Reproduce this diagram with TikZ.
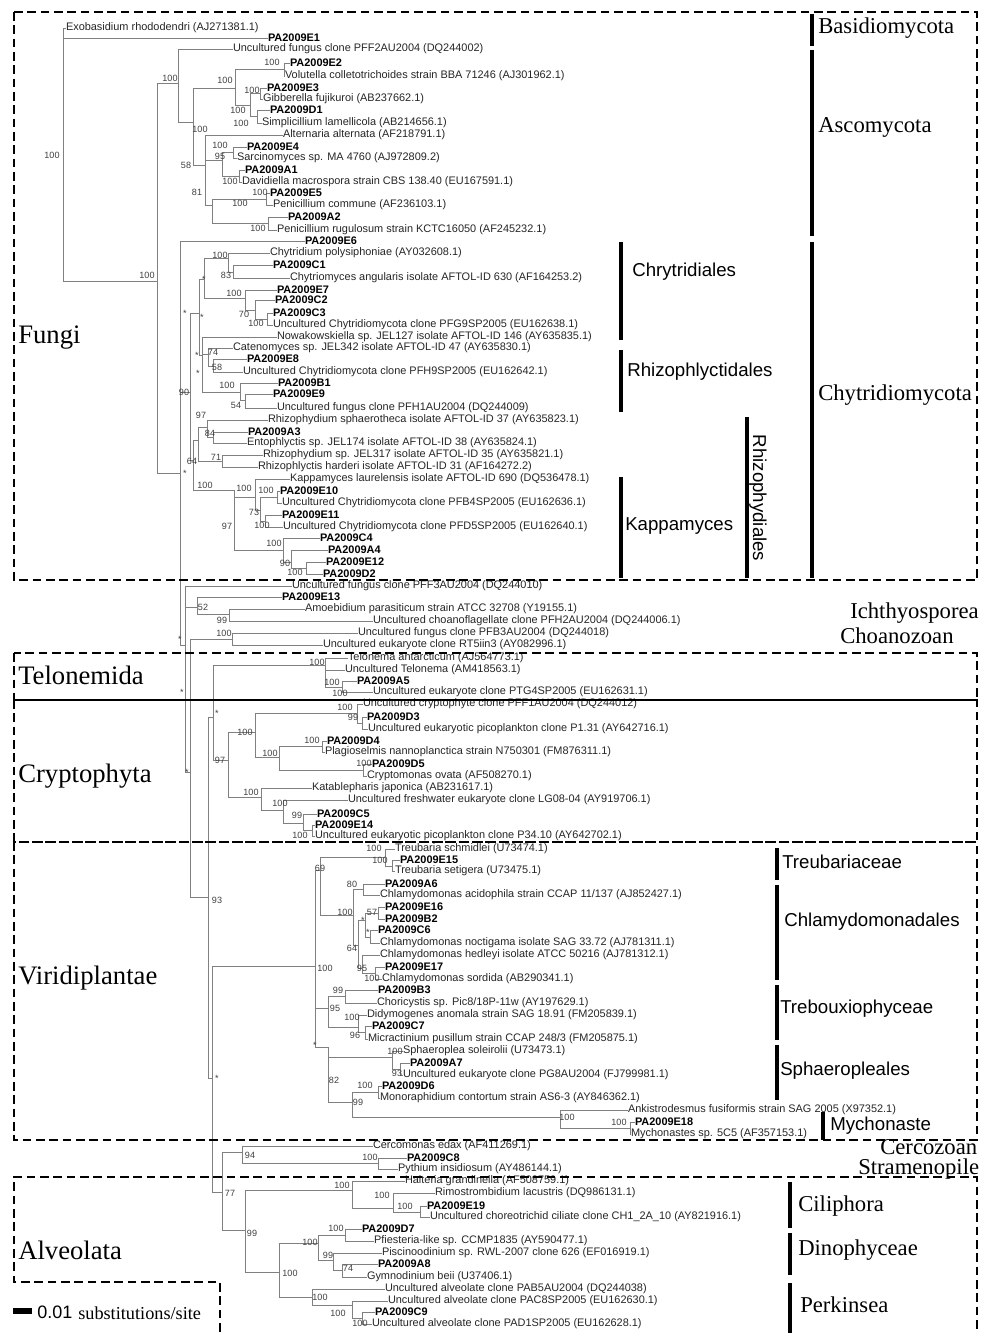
\documentclass[tikz,border=0pt]{standalone}
\usepackage{fontspec}
\setmainfont{Liberation Serif}
\setsansfont{Liberation Sans}
\newcounter{bsc}
\newcommand\bs[3]{\stepcounter{bsc}\node[bsl] (bs\arabic{bsc}) at (#1,#2) {#3};}
\newcommand\lv[4]{\node[lf] (#1) at (#2,#3) {#4};}
\newcommand\pa[4]{\node[lfb] (#1) at (#2,#3) {PA2009#4};}
\newcommand\kids[2]{\foreach \c in {#2}{\draw[br] (#1) |- (\c);}}
\begin{document}
\begin{tikzpicture}[x=0.75pt,y=-0.75pt,
  lf/.style={anchor=west, inner sep=0pt, outer sep=0pt, font=\sffamily\fontsize{8.2}{9}\selectfont, text=black!85},
  lfb/.style={lf, font=\sffamily\bfseries\fontsize{8.2}{9}\selectfont, text=black},
  br/.style={draw=black!50, line width=0.65pt},
  bsl/.style={inner sep=0pt, font=\sffamily\fontsize{6.8}{7}\selectfont, text=black!75},
  gbox/.style={draw=black, line width=1.9pt, dash pattern=on 6.5pt off 3.5pt},
  bar/.style={draw=black, line width=3pt},
  glab/.style={anchor=west, inner sep=0pt, font=\fontsize{20}{22}\selectfont},
  rlab/.style={anchor=west, inner sep=0pt, font=\fontsize{17}{18}\selectfont},
  slab/.style={anchor=west, inner sep=0pt, font=\sffamily\fontsize{14}{15}\selectfont}]
\useasboundingbox (0,0) rectangle (981,1333);
\fill[white] (0,0) rectangle (981,1333);
% ---------------- leaves
\lv{exo}{66}{28}{Exobasidium rhododendri (AJ271381.1)}
\pa{e1}{268}{38}{E1}
\lv{unc1}{233}{49}{Uncultured fungus clone PFF2AU2004 (DQ244002)}
\pa{e2}{290}{63}{E2}
\lv{vol}{285}{76}{Volutella colletotrichoides strain BBA 71246 (AJ301962.1)}
\pa{e3}{267}{88}{E3}
\lv{gib}{263}{99}{Gibberella fujikuroi (AB237662.1)}
\pa{d1}{270}{110}{D1}
\lv{sim}{262}{123}{Simplicillium lamellicola (AB214656.1)}
\lv{alt}{283}{135}{Alternaria alternata (AF218791.1)}
\pa{e4}{247}{147}{E4}
\lv{sar}{237}{158}{Sarcinomyces sp. MA 4760 (AJ972809.2)}
\pa{a1}{245}{170}{A1}
\lv{dav}{242}{182}{Davidiella macrospora strain CBS 138.40 (EU167591.1)}
\pa{e5}{270}{193}{E5}
\lv{pcom}{273}{205}{Penicillium commune (AF236103.1)}
\pa{a2}{288}{217}{A2}
\lv{prug}{277}{230}{Penicillium rugulosum strain KCTC16050 (AF245232.1)}
\pa{e6}{305}{241}{E6}
\lv{chy}{270}{253}{Chytridium polysiphoniae (AY032608.1)}
\pa{c1}{273}{265}{C1}
\lv{cang}{290}{278}{Chytriomyces angularis isolate AFTOL-ID 630 (AF164253.2)}
\pa{e7}{277}{290}{E7}
\pa{c2}{275}{300}{C2}
\pa{c3}{273}{313}{C3}
\lv{pfg9}{273}{325}{Uncultured Chytridiomycota clone PFG9SP2005 (EU162638.1)}
\lv{now}{277}{337}{Nowakowskiella sp. JEL127 isolate AFTOL-ID 146 (AY635835.1)}
\lv{cat}{233}{348}{Catenomyces sp. JEL342 isolate AFTOL-ID 47 (AY635830.1)}
\pa{e8}{247}{359}{E8}
\lv{pfh9}{243}{372}{Uncultured Chytridiomycota clone PFH9SP2005 (EU162642.1)}
\pa{b1}{278}{383}{B1}
\pa{e9}{273}{394}{E9}
\lv{pfh1}{277}{408}{Uncultured fungus clone PFH1AU2004 (DQ244009)}
\lv{rsph}{268}{420}{Rhizophydium sphaerotheca isolate AFTOL-ID 37 (AY635823.1)}
\pa{a3}{248}{432}{A3}
\lv{ent}{247}{443}{Entophlyctis sp. JEL174 isolate AFTOL-ID 38 (AY635824.1)}
\lv{rjel}{263}{455}{Rhizophydium sp. JEL317 isolate AFTOL-ID 35 (AY635821.1)}
\lv{rhar}{258}{467}{Rhizophlyctis harderi isolate AFTOL-ID 31 (AF164272.2)}
\lv{kap}{290}{479}{Kappamyces laurelensis isolate AFTOL-ID 690 (DQ536478.1)}
\pa{e10}{280}{491}{E10}
\lv{pfb4}{282}{503}{Uncultured Chytridiomycota clone PFB4SP2005 (EU162636.1)}
\pa{e11}{282}{515}{E11}
\lv{pfd5}{283}{527}{Uncultured Chytridiomycota clone PFD5SP2005 (EU162640.1)}
\pa{c4}{320}{538}{C4}
\pa{a4}{328}{550}{A4}
\pa{e12}{326}{562}{E12}
\pa{d2}{323}{574}{D2}
\lv{pff3}{292}{586}{Uncultured fungus clone PFF3AU2004 (DQ244010)}
\pa{e13}{282}{597}{E13}
\lv{amo}{305}{609}{Amoebidium parasiticum strain ATCC 32708 (Y19155.1)}
\lv{cho}{373}{621}{Uncultured choanoflagellate clone PFH2AU2004 (DQ244006.1)}
\lv{pfb3}{358}{633}{Uncultured fungus clone PFB3AU2004 (DQ244018)}
\lv{rt5}{323}{645}{Uncultured eukaryote clone RT5iin3 (AY082996.1)}
\lv{tant}{348}{658}{Telonema antarcticum (AJ564773.1)}
\lv{tunc}{345}{670}{Uncultured Telonema (AM418563.1)}
\pa{a5}{357}{681}{A5}
\lv{ptg4}{373}{692}{Uncultured eukaryote clone PTG4SP2005 (EU162631.1)}
\lv{pff1}{363}{704}{Uncultured cryptophyte clone PFF1AU2004 (DQ244012)}
\pa{d3}{367}{717}{D3}
\lv{p131}{368}{729}{Uncultured eukaryotic picoplankton clone P1.31 (AY642716.1)}
\pa{d4}{327}{741}{D4}
\lv{pla}{325}{752}{Plagioselmis nannoplanctica strain N750301 (FM876311.1)}
\pa{d5}{372}{764}{D5}
\lv{cov}{367}{776}{Cryptomonas ovata (AF508270.1)}
\lv{kat}{312}{788}{Katablepharis japonica (AB231617.1)}
\lv{lg08}{348}{800}{Uncultured freshwater eukaryote clone LG08-04 (AY919706.1)}
\pa{c5}{317}{814}{C5}
\pa{e14}{315}{825}{E14}
\lv{p3410}{315}{836}{Uncultured eukaryotic picoplankton clone P34.10 (AY642702.1)}
\lv{tsch}{395}{849}{Treubaria schmidlei (U73474.1)}
\pa{e15}{400}{860}{E15}
\lv{tset}{395}{871}{Treubaria setigera (U73475.1)}
\pa{a6}{385}{884}{A6}
\lv{cac}{380}{895}{Chlamydomonas acidophila strain CCAP 11/137 (AJ852427.1)}
\pa{e16}{385}{907}{E16}
\pa{b2}{385}{919}{B2}
\pa{c6}{378}{930}{C6}
\lv{cnoc}{380}{943}{Chlamydomonas noctigama isolate SAG 33.72 (AJ781311.1)}
\lv{ched}{380}{955}{Chlamydomonas hedleyi isolate ATCC 50216 (AJ781312.1)}
\pa{e17}{385}{967}{E17}
\lv{csor}{382}{979}{Chlamydomonas sordida (AB290341.1)}
\pa{b3}{378}{990}{B3}
\lv{chor}{377}{1003}{Choricystis sp. Pic8/18P-11w (AY197629.1)}
\lv{didy}{367}{1015}{Didymogenes anomala strain SAG 18.91 (FM205839.1)}
\pa{c7}{372}{1026}{C7}
\lv{micr}{368}{1039}{Micractinium pusillum strain CCAP 248/3 (FM205875.1)}
\lv{sph}{403}{1051}{Sphaeroplea soleirolii (U73473.1)}
\pa{a7}{410}{1063}{A7}
\lv{pg8}{403}{1075}{Uncultured eukaryote clone PG8AU2004 (FJ799981.1)}
\pa{d6}{382}{1086}{D6}
\lv{mono}{380}{1098}{Monoraphidium contortum strain AS6-3 (AY846362.1)}
\lv{ank}{628}{1110}{Ankistrodesmus fusiformis strain SAG 2005 (X97352.1)}
\pa{e18}{635}{1122}{E18}
\lv{myc}{631}{1134}{Mychonastes sp. 5C5 (AF357153.1)}
\lv{cer}{373}{1146}{Cercomonas edax (AF411269.1)}
\pa{c8}{407}{1158}{C8}
\lv{pyt}{398}{1169}{Pythium insidiosum (AY486144.1)}
\lv{hal}{405}{1181}{Halteria grandinella (AF508759.1)}
\lv{rim}{435}{1193}{Rimostrombidium lacustris (DQ986131.1)}
\pa{e19}{427}{1206}{E19}
\lv{ch1}{430}{1217}{Uncultured choreotrichid ciliate clone CH1\_2A\_10 (AY821916.1)}
\pa{d7}{362}{1229}{D7}
\lv{pfi}{374}{1241}{Pfiesteria-like sp. CCMP1835 (AY590477.1)}
\lv{pis}{382}{1253}{Piscinoodinium sp. RWL-2007 clone 626 (EF016919.1)}
\pa{a8}{378}{1264}{A8}
\lv{gym}{367}{1277}{Gymnodinium beii (U37406.1)}
\lv{pab5}{385}{1289}{Uncultured alveolate clone PAB5AU2004 (DQ244038)}
\lv{pac8}{388}{1301}{Uncultured alveolate clone PAC8SP2005 (EU162630.1)}
\pa{c9}{375}{1312}{C9}
\lv{pad1}{372}{1324}{Uncultured alveolate clone PAD1SP2005 (EU162628.1)}
% ---------------- internal nodes
\coordinate (r0) at (63,155);   \coordinate (n157) at (157,281);
\coordinate (asc) at (178,83);  \coordinate (a2n) at (193,122);
\coordinate (a3n) at (235,88);  \coordinate (b1n) at (284,69);
\coordinate (b2n) at (250,105); \coordinate (b3n) at (260,93);
\coordinate (b4n) at (257,116); \coordinate (pn) at (205,165);
\coordinate (sn) at (222,160);  \coordinate (tn) at (233,152);
\coordinate (un) at (239,176);  \coordinate (qn) at (212,205);
\coordinate (vn) at (266,199);  \coordinate (wn) at (268,223);
\coordinate (x180) at (180,473); \coordinate (chn) at (190,392);
\coordinate (can) at (199,313); \coordinate (cbn) at (204,279);
\coordinate (cdn) at (228,258); \coordinate (cfn) at (233,272);
\coordinate (cen) at (245,298); \coordinate (cgn) at (255,310);
\coordinate (chn2) at (267,319); \coordinate (ccn) at (202,355);
\coordinate (cin) at (208,354); \coordinate (ckn) at (213,366);
\coordinate (cjn) at (240,392); \coordinate (cln) at (245,400);
\coordinate (rzn) at (193,460); \coordinate (ran) at (198,440);
\coordinate (rcn) at (207,427); \coordinate (ren) at (213,437);
\coordinate (rdn) at (222,461); \coordinate (rkn) at (234,490);
\coordinate (rmn) at (255,497); \coordinate (ron) at (260,510);
\coordinate (rpn) at (277,497); \coordinate (rqn) at (265,521);
\coordinate (rnn) at (283,550); \coordinate (rrn) at (291,562);
\coordinate (rsn) at (306,568);
\coordinate (x185) at (185,645); \coordinate (i1n) at (197,607);
\coordinate (i3n) at (229,614); \coordinate (x190) at (190,772);
\coordinate (i2n) at (232,639); \coordinate (x208) at (208,897);
\coordinate (t0n) at (213,717); \coordinate (tln) at (325,665);
\coordinate (tan) at (342,687); \coordinate (cr0) at (228,760);
\coordinate (cr1) at (255,732); \coordinate (cr3) at (357,713);
\coordinate (cr5) at (362,723); \coordinate (cr4) at (279,757);
\coordinate (cr6) at (322,746); \coordinate (cr7) at (363,770);
\coordinate (cr2) at (261,797); \coordinate (cr8) at (283,810);
\coordinate (cr9) at (303,823); \coordinate (cr10) at (312,830);
\coordinate (x212) at (212,1078); \coordinate (v0) at (315,966);
\coordinate (v1) at (320,870);  \coordinate (tr) at (385,857);
\coordinate (tr2) at (392,866); \coordinate (cl) at (353,915);
\coordinate (cl1) at (363,889); \coordinate (cl2) at (358,945);
\coordinate (cl3) at (365,920); \coordinate (cl5) at (378,913);
\coordinate (cl6) at (370,937); \coordinate (cl4) at (362,968);
\coordinate (cl7) at (375,973); \coordinate (tb) at (328,1008);
\coordinate (tb1) at (345,996); \coordinate (tb2) at (358,1027);
\coordinate (tb3) at (365,1032); \coordinate (v2) at (328,1047);
\coordinate (spn) at (392,1057); \coordinate (spa) at (400,1069);
\coordinate (v5) at (352,1102); \coordinate (d6n) at (378,1092);
\coordinate (am) at (560,1117); \coordinate (am2) at (630,1128);
\coordinate (xa) at (222,1192); \coordinate (cs) at (242,1152);
\coordinate (cs2) at (378,1163); \coordinate (al) at (245,1230);
\coordinate (ci0) at (352,1190); \coordinate (ci1) at (393,1208);
\coordinate (ci2) at (420,1212); \coordinate (di0) at (279,1272);
\coordinate (di1) at (318,1243); \coordinate (di2) at (345,1235);
\coordinate (di3) at (333,1260); \coordinate (di4) at (342,1270);
\coordinate (pk) at (312,1297); \coordinate (pk2) at (352,1305);
\coordinate (pk3) at (362,1318);
% ---------------- branches
\kids{r0}{exo.west,e1.west,n157}
\kids{n157}{asc,x180}
\kids{asc}{unc1.west,a2n}
\kids{a2n}{a3n,pn}
\kids{a3n}{b1n,b2n}
\kids{b1n}{e2.west,vol.west}
\kids{b2n}{b3n,b4n}
\kids{b3n}{e3.west,gib.west}
\kids{b4n}{d1.west,sim.west}
\kids{pn}{alt.west,sn,qn}
\kids{sn}{tn,un}
\kids{tn}{e4.west,sar.west}
\kids{un}{a1.west,dav.west}
\kids{qn}{vn,wn}
\kids{vn}{e5.west,pcom.west}
\kids{wn}{a2.west,prug.west}
\kids{x180}{e6.west,chn,x185}
\kids{chn}{can,rzn}
\kids{can}{cbn,ccn}
\kids{cbn}{cdn,cen}
\kids{cdn}{chy.west,cfn}
\kids{cfn}{c1.west,cang.west}
\kids{cen}{e7.west,cgn}
\kids{cgn}{c2.west,chn2}
\kids{chn2}{c3.west,pfg9.west}
\kids{ccn}{now.west,cin,cjn}
\kids{cin}{cat.west,ckn}
\kids{ckn}{e8.west,pfh9.west}
\kids{cjn}{b1.west,cln}
\kids{cln}{e9.west,pfh1.west}
\kids{rzn}{ran,rkn}
\kids{ran}{rcn,rdn}
\kids{rcn}{rsph.west,ren}
\kids{ren}{a3.west,ent.west}
\kids{rdn}{rjel.west,rhar.west}
\kids{rkn}{rmn,rnn}
\kids{rmn}{kap.west,ron}
\kids{ron}{rpn,rqn}
\kids{rpn}{e10.west,pfb4.west}
\kids{rqn}{e11.west,pfd5.west}
\kids{rnn}{c4.west,rrn}
\kids{rrn}{a4.west,rsn}
\kids{rsn}{e12.west,d2.west}
\kids{x185}{pff3.west,i1n,x190}
\kids{i1n}{e13.west,i3n}
\kids{i3n}{amo.west,cho.west}
\kids{x190}{i2n,x208}
\kids{i2n}{pfb3.west,rt5.west}
\kids{x208}{t0n,x212}
\kids{t0n}{tln,cr0}
\kids{tln}{tant.west,tunc.west,tan}
\kids{tan}{a5.west,ptg4.west}
\kids{cr0}{cr1,cr2}
\kids{cr1}{cr3,cr4}
\kids{cr3}{pff1.west,cr5}
\kids{cr5}{d3.west,p131.west}
\kids{cr4}{cr6,cr7}
\kids{cr6}{d4.west,pla.west}
\kids{cr7}{d5.west,cov.west}
\kids{cr2}{kat.west,cr8}
\kids{cr8}{lg08.west,cr9}
\kids{cr9}{c5.west,cr10}
\kids{cr10}{e14.west,p3410.west}
\kids{x212}{v0,xa}
\kids{v0}{v1,tb,v2}
\kids{v1}{tr,cl}
\kids{tr}{tsch.west,tr2}
\kids{tr2}{e15.west,tset.west}
\kids{cl}{cl1,cl2}
\kids{cl1}{a6.west,cac.west}
\kids{cl2}{cl3,cl4}
\kids{cl3}{cl5,cl6}
\kids{cl5}{e16.west,b2.west}
\kids{cl6}{c6.west,cnoc.west}
\kids{cl4}{ched.west,cl7}
\kids{cl7}{e17.west,csor.west}
\kids{tb}{tb1,tb2}
\kids{tb1}{b3.west,chor.west}
\kids{tb2}{didy.west,tb3}
\kids{tb3}{c7.west,micr.west}
\kids{v2}{spn,v5}
\kids{spn}{sph.west,spa}
\kids{spa}{a7.west,pg8.west}
\kids{v5}{d6n,am}
\kids{d6n}{d6.west,mono.west}
\kids{am}{ank.west,am2}
\kids{am2}{e18.west,myc.west}
\kids{xa}{cs,al}
\kids{cs}{cer.west,cs2}
\kids{cs2}{c8.west,pyt.west}
\kids{al}{ci0,di0}
\kids{ci0}{hal.west,ci1}
\kids{ci1}{rim.west,ci2}
\kids{ci2}{e19.west,ch1.west}
\kids{di0}{di1,pk}
\kids{di1}{di2,di3}
\kids{di2}{d7.west,pfi.west}
\kids{di3}{pis.west,di4}
\kids{di4}{a8.west,gym.west}
\kids{pk}{pab5.west,pk2}
\kids{pk2}{pac8.west,pk3}
\kids{pk3}{c9.west,pad1.west}
% ---------------- support values
\bs{52}{155}{100}\bs{147}{275}{100}\bs{170}{78}{100}\bs{225}{80}{100}
\bs{272}{62}{100}\bs{252}{90}{100}\bs{238}{110}{100}\bs{241}{123}{100}
\bs{200}{129}{100}\bs{220}{145}{100}\bs{220}{156}{95}\bs{186}{165}{58}
\bs{230}{181}{100}\bs{197}{192}{81}\bs{260}{192}{100}\bs{240}{203}{100}
\bs{258}{228}{100}
\bs{220}{255}{100}\bs{226}{275}{83}\bs{204}{279}{*}\bs{234}{293}{100}
\bs{244}{314}{70}\bs{256}{323}{100}\bs{185}{313}{*}\bs{202}{317}{*}
\bs{197}{355}{*}\bs{198}{373}{*}\bs{213}{352}{74}\bs{217}{367}{58}
\bs{227}{385}{100}\bs{236}{405}{54}\bs{184}{392}{90}\bs{201}{415}{97}
\bs{210}{433}{84}\bs{216}{457}{71}\bs{192}{461}{64}\bs{185}{473}{*}
\bs{205}{485}{100}\bs{244}{488}{100}\bs{266}{490}{100}\bs{254}{512}{73}
\bs{262}{525}{100}\bs{227}{526}{97}\bs{274}{543}{100}\bs{285}{563}{90}
\bs{295}{572}{100}
\bs{180}{639}{*}\bs{203}{607}{52}\bs{222}{620}{99}\bs{224}{633}{100}
\bs{182}{692}{*}\bs{317}{662}{100}\bs{332}{682}{100}\bs{340}{693}{100}
\bs{217}{713}{*}\bs{345}{707}{100}\bs{353}{717}{99}\bs{245}{732}{100}
\bs{220}{760}{97}\bs{270}{753}{100}\bs{312}{740}{100}\bs{364}{763}{100}
\bs{251}{792}{100}\bs{280}{803}{100}\bs{297}{815}{99}\bs{300}{835}{100}
\bs{187}{772}{*}
\bs{374}{848}{100}\bs{380}{860}{100}\bs{320}{868}{69}\bs{352}{884}{80}
\bs{217}{900}{93}\bs{345}{912}{100}\bs{372}{912}{57}\bs{363}{920}{*}
\bs{368}{932}{*}\bs{352}{948}{64}\bs{362}{968}{95}\bs{325}{968}{100}
\bs{372}{978}{100}\bs{338}{990}{99}\bs{335}{1008}{95}\bs{352}{1017}{100}
\bs{355}{1035}{96}\bs{395}{1051}{100}\bs{397}{1073}{93}\bs{315}{1045}{*}
\bs{217}{1078}{*}\bs{334}{1080}{82}\bs{365}{1085}{100}\bs{358}{1102}{99}
\bs{567}{1117}{100}\bs{619}{1122}{100}
\bs{250}{1155}{94}\bs{370}{1157}{100}\bs{230}{1193}{77}
\bs{342}{1185}{100}\bs{382}{1195}{100}\bs{405}{1206}{100}\bs{252}{1233}{99}
\bs{336}{1228}{100}\bs{310}{1242}{100}\bs{328}{1255}{99}\bs{348}{1268}{74}
\bs{290}{1273}{100}\bs{320}{1297}{100}\bs{338}{1313}{100}\bs{360}{1323}{100}
% ---------------- group boxes
\draw[gbox] (14,12) rectangle (977,580);
\draw[gbox] (14,653) rectangle (977,700);
\draw[gbox] (14,700) rectangle (977,842);
\draw[gbox] (14,842) rectangle (977,1140);
\draw[gbox] (220,1345) -- (220,1282) -- (14,1282) -- (14,1177) -- (977,1177) -- (977,1345);
% ---------------- group labels
\node[glab] (lfungi) at (18,338) {Fungi};
\node[glab] (ltelo) at (18,675) {Telonemida};
\node[glab] (lcryp) at (18,776) {Cryptophyta};
\node[glab] (lviri) at (18,978) {Viridiplantae};
\node[glab] (lalve) at (18,1250) {Alveolata};
% ---------------- right labels
\draw[bar] (812,14) -- (812,46);   \node[rlab] (lbas) at (818,28) {Basidiomycota};
\draw[bar] (812,50) -- (812,236);  \node[rlab] (lasc) at (818,127) {Ascomycota};
\draw[bar] (812,242) -- (812,578); \node[rlab] (lchy) at (818,395) {Chytridiomycota};
\draw[bar] (621,242) -- (621,340); \node[slab] (lchr) at (632,272) {Chrytridiales};
\draw[bar] (621,350) -- (621,412); \node[slab] (lrhl) at (627,372) {Rhizophlyctidales};
\draw[bar] (621,477) -- (621,578); \node[slab] (lkap) at (625,526) {Kappamyces};
\draw[bar] (747,417) -- (747,578);
\node[slab, anchor=center, rotate=-90] (lrhd) at (758,498) {Rhizophydiales};
\node[rlab] (lich) at (850,613) {Ichthyosporea};
\node[rlab] (lcho) at (840,636) {Choanozoan};
\draw[bar] (777,848) -- (777,880);   \node[slab] (ltre) at (782,862) {Treubariaceae};
\draw[bar] (777,885) -- (777,980);   \node[slab] (lchl) at (784,922) {Chlamydomonadales};
\draw[bar] (777,985) -- (777,1040);  \node[slab] (ltrb) at (780,1009) {Trebouxiophyceae};
\draw[bar] (777,1045) -- (777,1100); \node[slab] (lsph) at (780,1071) {Sphaeropleales};
\draw[bar] (823,1112) -- (823,1140); \node[slab] (lmyc) at (830,1126) {Mychonaste};
\node[rlab] (lcer) at (880,1147) {Cercozoan};
\node[rlab] (lstr) at (858,1169) {Stramenopile};
\draw[bar] (790,1182) -- (790,1228); \node[rlab] (lcil) at (798,1206) {Ciliphora};
\draw[bar] (790,1233) -- (790,1275); \node[rlab] (ldin) at (798,1250) {Dinophyceae};
\draw[bar] (790,1283) -- (790,1333); \node[rlab] (lper) at (800,1305) {Perkinsea};
% ---------------- scale bar
\draw[line width=4pt] (13,1311) -- (32,1311);
\node[anchor=west, inner sep=0pt, font=\sffamily\fontsize{13.5}{14}\selectfont] (sc1) at (37,1312) {0.01};
\node[anchor=west, inner sep=0pt, font=\fontsize{13.7}{14}\selectfont] (sc2) at (78,1313) {substitutions/site};
\end{tikzpicture}
\end{document}
